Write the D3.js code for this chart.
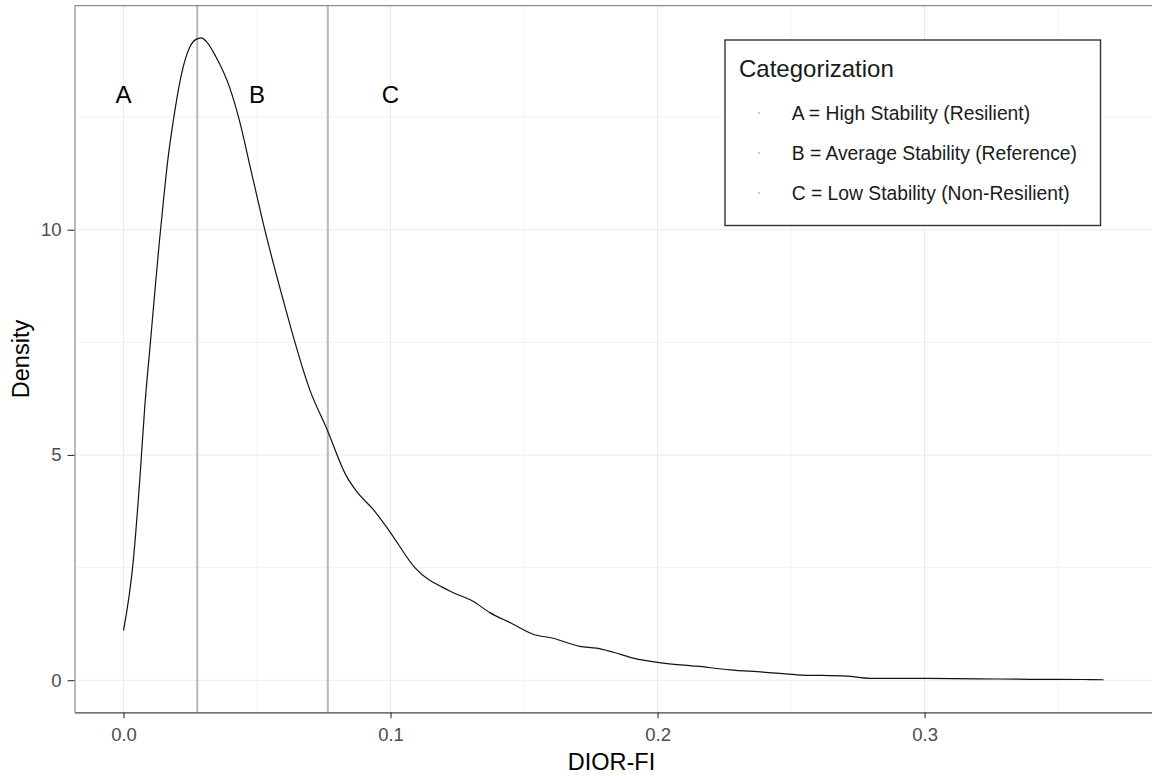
<!DOCTYPE html>
<html>
<head>
<meta charset="utf-8">
<script src="https://cdn.jsdelivr.net/npm/d3@7"></script>
<style>
  html, body { margin: 0; padding: 0; background: #fff; }
  svg { display: block; font-family: "Liberation Sans", Arial, sans-serif; }
</style>
</head>
<body>
<svg id="chart" width="1152" height="776"></svg>
<script>
// Kernel density of DIOR-FI scores
const dioX = [0.000, 0.0036, 0.0061, 0.0080, 0.0100, 0.0117, 0.0133, 0.0148, 0.0166, 0.0186,
  0.0217, 0.0248, 0.0270, 0.0292, 0.0310, 0.0345, 0.0398, 0.0433, 0.0480, 0.0529,
  0.0598, 0.0629, 0.0698, 0.0760, 0.0835, 0.0873, 0.0935, 0.0997, 0.1091, 0.1222,
  0.1309, 0.1372, 0.1447, 0.1534, 0.1609, 0.1709, 0.1772, 0.1834, 0.1909, 0.2021,
  0.2146, 0.2271, 0.2395, 0.2521, 0.2708, 0.2795, 0.2982, 0.3200, 0.3400, 0.3600,
  0.3670];
const density = [1.10, 2.61, 4.45, 6.10, 7.45, 8.60, 9.65, 10.55, 11.55, 12.40,
  13.45, 14.05, 14.22, 14.26, 14.18, 13.85, 13.15, 12.45, 11.25, 10.00,
  8.44, 7.77, 6.44, 5.60, 4.53, 4.19, 3.79, 3.30, 2.50, 1.98,
  1.75, 1.50, 1.28, 1.02, 0.93, 0.75, 0.71, 0.62, 0.49, 0.38,
  0.31, 0.23, 0.18, 0.12, 0.09, 0.04, 0.04, 0.03, 0.02, 0.015,
  0.01];

// Category cut points and labels
const cutPoints = [0.0276, 0.0765];
const catLabels = ["A", "B", "C"];
const catLabelX = [0.0, 0.05, 0.1];
const catLabelY = 13;
const legendTitle = "Categorization";
const legendItems = [
  "A = High Stability (Resilient)",
  "B = Average Stability (Reference)",
  "C = Low Stability (Non-Resilient)"
];

const xTicks = [0.0, 0.1, 0.2, 0.3];
const xMinor = [0.05, 0.15, 0.25, 0.35];
const yTicks = [0, 5, 10];
const yMinor = [2.5, 7.5, 12.5];

const svg = d3.select("#chart");
const panel = { left: 74.5, right: 1152.5, top: 5.7, bottom: 712.3 };

// 5% expansion on both scales
const xr = [0, d3.max(dioX)];
const yr = [0, d3.max(density)];
const xpad = (xr[1] - xr[0]) * 0.05, ypad = (yr[1] - yr[0]) * 0.05;
const x = d3.scaleLinear().domain([xr[0] - xpad, xr[1] + xpad]).range([panel.left, panel.right]);
const y = d3.scaleLinear().domain([yr[0] - ypad, yr[1] + ypad]).range([panel.bottom, panel.top]);

const g = svg.append("g");

// grid
g.selectAll(".xminor").data(xMinor).join("line")
  .attr("x1", d => x(d)).attr("x2", d => x(d))
  .attr("y1", panel.top).attr("y2", panel.bottom)
  .attr("stroke", "#ebebeb").attr("stroke-width", 0.6);
g.selectAll(".yminor").data(yMinor).join("line")
  .attr("y1", d => y(d)).attr("y2", d => y(d))
  .attr("x1", panel.left).attr("x2", panel.right)
  .attr("stroke", "#ebebeb").attr("stroke-width", 0.6);
g.selectAll(".xmajor").data(xTicks).join("line")
  .attr("x1", d => x(d)).attr("x2", d => x(d))
  .attr("y1", panel.top).attr("y2", panel.bottom)
  .attr("stroke", "#ebebeb").attr("stroke-width", 1.1);
g.selectAll(".ymajor").data(yTicks).join("line")
  .attr("y1", d => y(d)).attr("y2", d => y(d))
  .attr("x1", panel.left).attr("x2", panel.right)
  .attr("stroke", "#ebebeb").attr("stroke-width", 1.1);

// cut point lines
g.selectAll(".cut").data(cutPoints).join("line")
  .attr("x1", d => x(d)).attr("x2", d => x(d))
  .attr("y1", panel.top).attr("y2", panel.bottom)
  .attr("stroke", "#bdbdbd").attr("stroke-width", 2.2);

// density curve
const line = d3.line().x((d, i) => x(dioX[i])).y(d => y(d)).curve(d3.curveMonotoneX);
g.append("path").datum(density)
  .attr("d", line).attr("fill", "none")
  .attr("stroke", "#111").attr("stroke-width", 1.2);

// category labels
g.selectAll(".cat").data(catLabels).join("text")
  .attr("x", (d, i) => x(catLabelX[i]))
  .attr("y", y(catLabelY))
  .attr("dy", "0.36em")
  .attr("text-anchor", "middle")
  .attr("font-size", 24).attr("fill", "#000")
  .text(d => d);

// panel border (top) and axes
svg.append("line").attr("x1", panel.left).attr("x2", panel.right)
  .attr("y1", panel.top).attr("y2", panel.top)
  .attr("stroke", "#8c8c8c").attr("stroke-width", 1.2);

const xAxis = d3.axisBottom(x).tickValues(xTicks).tickFormat(d3.format(".1f"))
  .tickSizeInner(6).tickSizeOuter(0).tickPadding(10);
const xg = svg.append("g").attr("transform", `translate(0,${panel.bottom})`).call(xAxis);
xg.select(".domain").attr("stroke", "#444").attr("stroke-width", 1.3);
xg.selectAll(".tick line").attr("stroke", "#333").attr("stroke-width", 1.1);
xg.selectAll("text").attr("font-size", 18.5).attr("fill", "#4d4d4d")
  .attr("font-family", "Liberation Sans, Arial, sans-serif");

const yAxis = d3.axisLeft(y).tickValues(yTicks).tickSizeInner(7).tickSizeOuter(0).tickPadding(6);
const yg = svg.append("g").attr("transform", `translate(${panel.left},0)`).call(yAxis);
yg.select(".domain").attr("stroke", "#8c8c8c").attr("stroke-width", 1.2);
yg.selectAll(".tick line").attr("stroke", "#333").attr("stroke-width", 1.1);
yg.selectAll("text").attr("font-size", 18.5).attr("fill", "#4d4d4d")
  .attr("font-family", "Liberation Sans, Arial, sans-serif");

// axis titles
svg.append("text").attr("x", (panel.left + panel.right) / 2 - 2).attr("y", 770)
  .attr("text-anchor", "middle").attr("font-size", 23.5).attr("fill", "#000").text("DIOR-FI");
svg.append("text").attr("transform", `translate(29,${(panel.top + panel.bottom) / 2}) rotate(-90)`)
  .attr("text-anchor", "middle").attr("font-size", 23.5).attr("fill", "#000").text("Density");

// legend
const lg = svg.append("g").attr("transform", "translate(725,40)");
lg.append("rect").attr("x", 0).attr("y", 0).attr("width", 375.5).attr("height", 185.5)
  .attr("fill", "#fff").attr("stroke", "#333").attr("stroke-width", 1.4);
lg.append("text").attr("x", 14).attr("y", 36.7).attr("font-size", 24).attr("fill", "#1a1a1a").text(legendTitle);
lg.selectAll(".key").data(legendItems).join("circle")
  .attr("cx", 34).attr("cy", (d, i) => 73 + i * 40).attr("r", 0.8).attr("fill", "#888");
lg.selectAll(".item").data(legendItems).join("text")
  .attr("x", 66.7).attr("y", (d, i) => 80 + i * 40)
  .attr("font-size", 19.3).attr("fill", "#1a1a1a").text(d => d);
</script>
</body>
</html>
